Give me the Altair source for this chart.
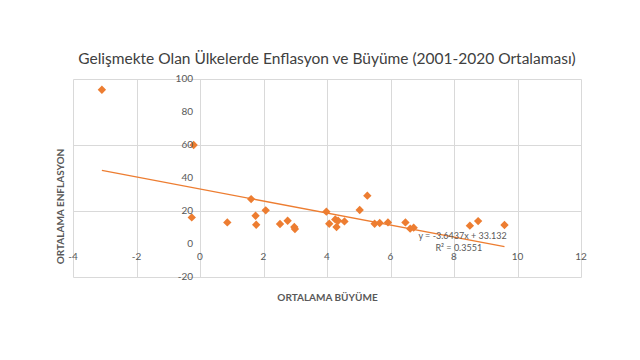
import altair as alt
import pandas as pd

growth = [-3.09, -0.20, -0.26, 0.86, 1.61, 1.75, 1.77, 2.07, 2.52, 2.76, 2.97, 2.99,
          3.98, 4.07, 4.26, 4.30, 4.35, 4.55, 5.03, 5.27, 5.50, 5.66, 5.92, 6.47,
          6.62, 6.73, 8.50, 8.76, 9.59]
inflation = [93.5, 60.0, 16.1, 13.1, 27.2, 17.1, 11.7, 20.4, 12.1, 14.1, 10.3, 9.1,
             19.6, 12.3, 14.9, 10.3, 14.1, 13.7, 20.6, 29.3, 12.3, 12.7, 13.1, 13.1,
             9.3, 9.9, 11.1, 13.9, 11.5]
x_ticks = [-4, -2, 0, 2, 4, 6, 8, 10, 12]
y_ticks = [-20, 0, 20, 40, 60, 80, 100]
eq_text = ["y = -3.6437x + 33.132", "R² = 0.3551"]
eq_x = [8.27, 8.15]
eq_y = [4.6, -2.4]

df = pd.DataFrame({"x": growth, "y": inflation})
xt = pd.DataFrame({"v": x_ticks, "lab": [str(v) for v in x_ticks]})
yt = pd.DataFrame({"v": y_ticks, "lab": [str(v) for v in y_ticks]})
eq = pd.DataFrame({"t": eq_text, "x": eq_x, "y": eq_y})

ORANGE = "#ED7D31"
GRAY = "#595959"
FONT = "Lato"

xs = alt.Scale(domain=[-4, 12], nice=False, zero=False)
ys = alt.Scale(domain=[-20, 100], nice=False, zero=False)

points = alt.Chart(df).mark_point(
    shape="diamond", filled=True, size=70, color=ORANGE, opacity=1
).encode(
    x=alt.X("x:Q", scale=xs, axis=alt.Axis(
        values=x_ticks, grid=True, labels=False, ticks=False, domain=False,
        title="ORTALAMA BÜYÜME", titleY=15, titleBaseline="top",
        titleFontSize=10, titleFontWeight="bold", titleColor=GRAY, titleFont=FONT)),
    y=alt.Y("y:Q", scale=ys, axis=alt.Axis(
        values=y_ticks, grid=True, labels=False, ticks=False, domain=False,
        title="ORTALAMA ENFLASYON", titleX=-13, titleY=127, titleAlign="center",
        titleBaseline="middle", titleAngle=-90,
        titleFontSize=10, titleFontWeight="bold", titleColor=GRAY, titleFont=FONT)),
)

trend = alt.Chart(df).transform_regression("x", "y").mark_line(
    color=ORANGE, strokeWidth=1.3
).encode(x=alt.X("x:Q", scale=xs), y=alt.Y("y:Q", scale=ys))

xlab = alt.Chart(xt).mark_text(
    baseline="top", dy=8, fontSize=10, color=GRAY, font=FONT
).encode(x=alt.X("v:Q", scale=xs), y=alt.Y(datum=0, scale=ys), text="lab:N")

ylab = alt.Chart(yt).mark_text(
    align="right", baseline="middle", dx=-7, fontSize=10, color=GRAY, font=FONT
).encode(x=alt.X(datum=0, scale=xs), y=alt.Y("v:Q", scale=ys), text="lab:N")

eqt = alt.Chart(eq).mark_text(
    fontSize=9, color=GRAY, font=FONT
).encode(x=alt.X("x:Q", scale=xs), y=alt.Y("y:Q", scale=ys), text="t:N")

chart = alt.layer(points, trend, xlab, ylab, eqt).properties(
    width=508, height=198,
    autosize=alt.AutoSizeParams(type="none"),
    padding={"left": 65, "top": 71, "right": 43, "bottom": 67},
    title=alt.TitleParams(
        "Gelişmekte Olan Ülkelerde Enflasyon ve Büyüme (2001-2020 Ortalaması)",
        fontSize=15.5, fontWeight="normal", color="#404040", font=FONT,
        anchor="middle", baseline="alphabetic", offset=-5),
).configure_view(stroke=None).configure_axis(
    gridColor="#d9d9d9", gridWidth=1
)

chart.save("out.html", embed_options={"renderer": "svg", "actions": False})
